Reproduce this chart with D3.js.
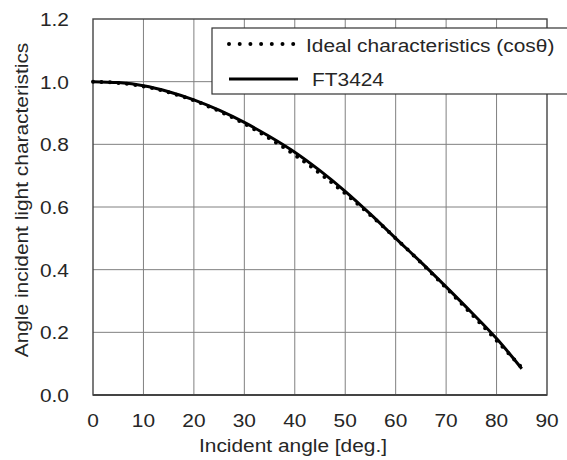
<!DOCTYPE html>
<meta charset="utf-8" />
<style>
  body { margin: 0; background: #fff; }
  text { font-family: "Liberation Sans", Arial, sans-serif; font-size: 18.5px; fill: #262626; }
  .grid line { stroke: #808080; stroke-width: 1; }
</style>
<svg width="567" height="460"></svg>
<script src="https://d3js.org/d3.v7.min.js"></script>
<script>
  // values
  const angles = [0, 5, 10, 15, 20, 25, 30, 35, 40, 45, 50, 55, 60, 65, 70, 75, 80, 85];
  const ideal = [1.000, 0.996, 0.985, 0.966, 0.940, 0.906, 0.866, 0.819, 0.766, 0.707,
                 0.643, 0.574, 0.500, 0.423, 0.342, 0.259, 0.174, 0.087];
  const ft3424 = [1.000, 0.997, 0.987, 0.968, 0.942, 0.909, 0.870, 0.825, 0.775, 0.716,
                  0.650, 0.577, 0.500, 0.424, 0.345, 0.264, 0.180, 0.084];
  const xTicks = [0, 10, 20, 30, 40, 50, 60, 70, 80, 90];
  const yTicks = [0.0, 0.2, 0.4, 0.6, 0.8, 1.0, 1.2];
  const legendLabels = ['Ideal characteristics (cos\u03b8)', 'FT3424'];

  const svg = d3.select('svg');
  const stretch = 1.13; // the reference text is a bit wider than Arial

  const x = d3.scaleLinear().domain([0, 90]).range([93, 547]);
  const y = d3.scaleLinear().domain([0, 1.2]).range([395, 19]);

  // stretched text helper
  function label(g, tx, ty, str, anchor, rot) {
    return g.append('text')
      .attr('transform', 'translate(' + tx + ',' + ty + ')' + (rot ? ' rotate(' + rot + ')' : '') + ' scale(' + stretch + ',1)')
      .attr('text-anchor', anchor)
      .text(str);
  }

  const grid = svg.append('g').attr('class', 'grid');
  grid.selectAll('.vx')
    .data(xTicks.slice(1, -1))
    .join('line')
    .attr('x1', d => x(d)).attr('x2', d => x(d))
    .attr('y1', y(1.2)).attr('y2', y(0));
  grid.selectAll('.hy')
    .data(yTicks.slice(1, -1))
    .join('line')
    .attr('class', 'hy')
    .attr('x1', x(0)).attr('x2', x(90))
    .attr('y1', d => y(d)).attr('y2', d => y(d));

  // plot frame
  svg.append('rect')
    .attr('x', x(0)).attr('y', y(1.2))
    .attr('width', x(90) - x(0)).attr('height', y(0) - y(1.2))
    .attr('fill', 'none').attr('stroke', '#444').attr('stroke-width', 1.4);
  svg.append('line')
    .attr('x1', x(0)).attr('x2', x(90)).attr('y1', y(0)).attr('y2', y(0))
    .attr('stroke', '#444').attr('stroke-width', 2);

  // tick labels
  const ax = svg.append('g');
  xTicks.forEach(d => label(ax, x(d), 427, d, 'middle'));
  yTicks.forEach(d => label(ax, 69, y(d) + 7, d3.format('.1f')(d), 'end'));

  label(svg, 293, 452, 'Incident angle [deg.]', 'middle');
  label(svg, 28, 200, 'Angle incident light characteristics', 'middle', -90);

  const line = d3.line()
    .x((d, i) => x(angles[i]))
    .y(d => y(d))
    .curve(d3.curveCatmullRom);

  svg.append('path')
    .datum(ideal)
    .attr('d', line)
    .attr('fill', 'none')
    .attr('stroke', '#000')
    .attr('stroke-width', 4)
    .attr('stroke-linecap', 'round')
    .attr('stroke-dasharray', '0 8.5');

  svg.append('path')
    .datum(ft3424)
    .attr('d', line)
    .attr('fill', 'none')
    .attr('stroke', '#000')
    .attr('stroke-width', 3);

  // legend
  const lg = svg.append('g');
  lg.append('rect')
    .attr('x', 212).attr('y', 28)
    .attr('width', 370).attr('height', 66)
    .attr('fill', '#fff').attr('stroke', '#333').attr('stroke-width', 1.2);
  lg.append('line')
    .attr('x1', 229).attr('x2', 294).attr('y1', 44).attr('y2', 44)
    .attr('stroke', '#000').attr('stroke-width', 4)
    .attr('stroke-linecap', 'round').attr('stroke-dasharray', '0 10.7');
  lg.append('line')
    .attr('x1', 229).attr('x2', 298).attr('y1', 79).attr('y2', 79)
    .attr('stroke', '#000').attr('stroke-width', 3);
  label(lg, 306, 51.5, legendLabels[0], 'start');
  label(lg, 312, 86, legendLabels[1], 'start');
</script>
